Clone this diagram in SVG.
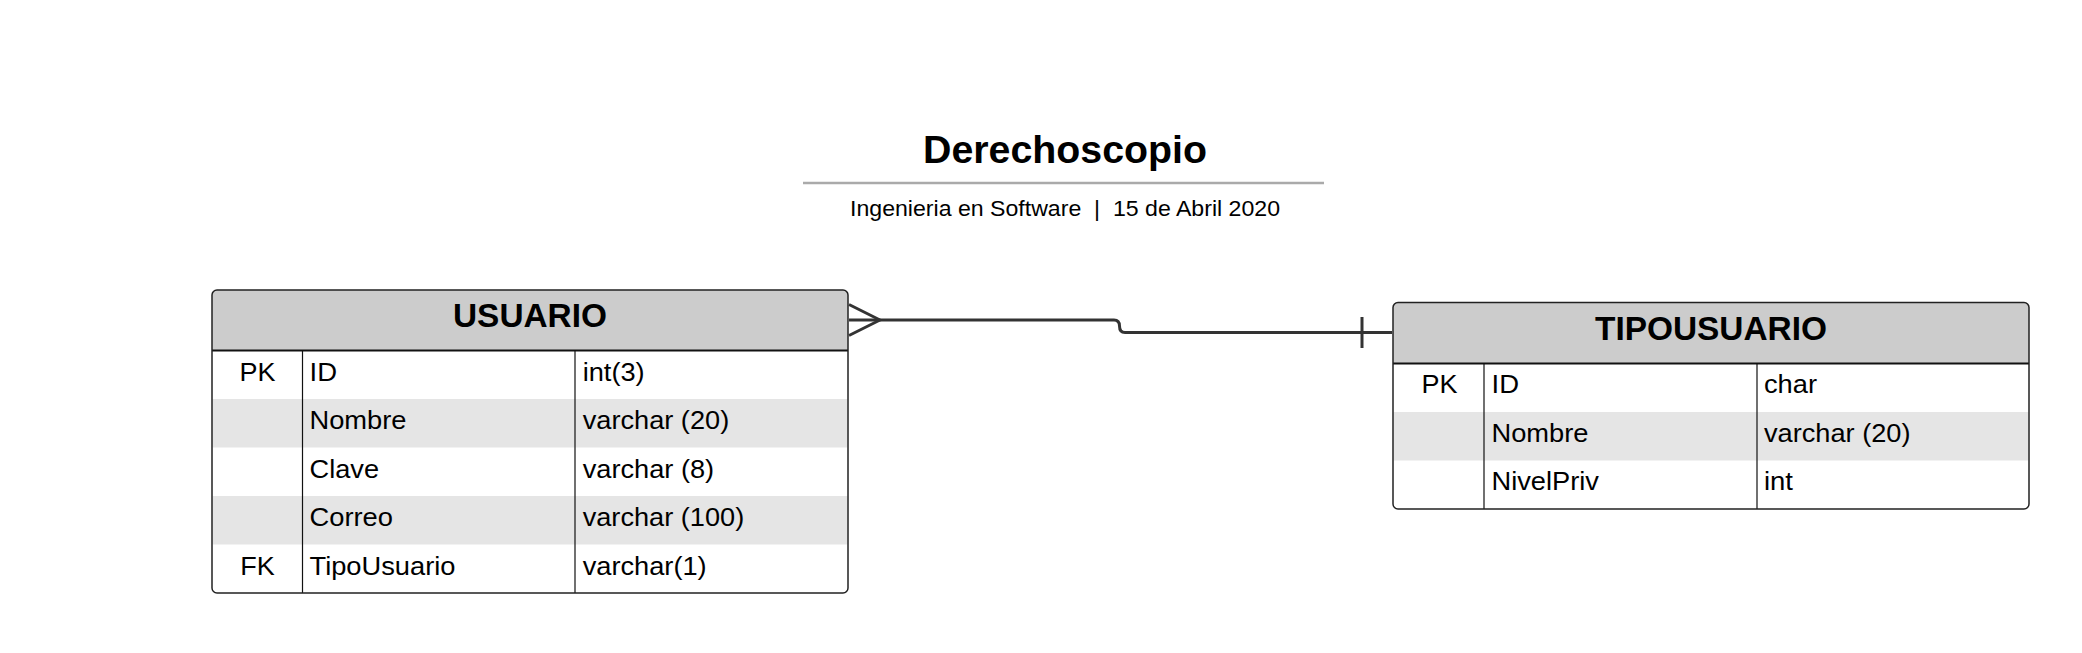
<svg xmlns="http://www.w3.org/2000/svg" width="2082" height="653" viewBox="0 0 2082 653">
<style>
.t{font-family:"Liberation Sans",Arial,sans-serif;font-size:25px;fill:#000}
.c{text-anchor:middle}
.h{font-family:"Liberation Sans",Arial,sans-serif;font-size:33px;font-weight:bold;fill:#000;text-anchor:middle}
.hdr{fill:#cccccc}
.stripe{fill:#e5e5e5}
.outline{fill:none;stroke:#222;stroke-width:1.5}
.hline{stroke:#111;stroke-width:2}
.col{stroke:#111;stroke-width:1.2}
.conn{fill:none;stroke:#333;stroke-width:3;stroke-linejoin:round}
</style>
<rect width="2082" height="653" fill="#fff"/>
<g id="title">
<text x="1065" y="163" font-family="Liberation Sans, Arial, sans-serif" font-size="39" font-weight="bold" text-anchor="middle" textLength="284" lengthAdjust="spacingAndGlyphs">Derechoscopio</text>
<line x1="803" y1="183" x2="1324" y2="183" stroke="#aaaaaa" stroke-width="2.7"/>
<text x="1065" y="215.5" xml:space="preserve" font-family="Liberation Sans, Arial, sans-serif" font-size="22.5" text-anchor="middle" textLength="430" lengthAdjust="spacingAndGlyphs">Ingenieria en Software  |  15 de Abril 2020</text>
</g>
<g id="usuario">
<rect x="212" y="290" width="636" height="303" rx="5" fill="#fff"/>
<path class="hdr" d="M212,350.5 V295 Q212,290 217,290 H843 Q848,290 848,295 V350.5 Z"/>
<rect class="stripe" x="212.5" y="399" width="635" height="48.5"/>
<rect class="stripe" x="212.5" y="496" width="635" height="48.5"/>
<line class="hline" x1="212" y1="350.5" x2="848" y2="350.5"/>
<line class="col" x1="302.5" y1="350.5" x2="302.5" y2="593"/>
<line class="col" x1="575" y1="350.5" x2="575" y2="593"/>
<rect class="outline" x="212" y="290" width="636" height="303" rx="5"/>
<text class="h" x="530" y="327" textLength="154" lengthAdjust="spacingAndGlyphs">USUARIO</text>
<text class="t c" x="257.5" y="380.5" textLength="36" lengthAdjust="spacingAndGlyphs">PK</text>
<text class="t" x="309.5" y="380.5" textLength="27.5" lengthAdjust="spacingAndGlyphs">ID</text>
<text class="t" x="582.7" y="380.5" textLength="62" lengthAdjust="spacingAndGlyphs">int(3)</text>
<text class="t" x="309.5" y="429" textLength="97" lengthAdjust="spacingAndGlyphs">Nombre</text>
<text class="t" x="582.7" y="429" textLength="146.5" lengthAdjust="spacingAndGlyphs">varchar (20)</text>
<text class="t" x="309.5" y="477.5" textLength="69.5" lengthAdjust="spacingAndGlyphs">Clave</text>
<text class="t" x="582.7" y="477.5" textLength="131.5" lengthAdjust="spacingAndGlyphs">varchar (8)</text>
<text class="t" x="309.5" y="526" textLength="83.5" lengthAdjust="spacingAndGlyphs">Correo</text>
<text class="t" x="582.7" y="526" textLength="161.5" lengthAdjust="spacingAndGlyphs">varchar (100)</text>
<text class="t c" x="257.5" y="574.5" textLength="34.5" lengthAdjust="spacingAndGlyphs">FK</text>
<text class="t" x="309.5" y="574.5" textLength="146" lengthAdjust="spacingAndGlyphs">TipoUsuario</text>
<text class="t" x="582.7" y="574.5" textLength="124" lengthAdjust="spacingAndGlyphs">varchar(1)</text>
</g>
<g id="tipousuario">
<rect x="1393" y="302.5" width="636" height="206.5" rx="5" fill="#fff"/>
<path class="hdr" d="M1393,363.5 V307.5 Q1393,302.5 1398,302.5 H2024 Q2029,302.5 2029,307.5 V363.5 Z"/>
<rect class="stripe" x="1393.5" y="412" width="635" height="48.5"/>
<line class="hline" x1="1393" y1="363.5" x2="2029" y2="363.5"/>
<line class="col" x1="1484" y1="363.5" x2="1484" y2="509"/>
<line class="col" x1="1757" y1="363.5" x2="1757" y2="509"/>
<rect class="outline" x="1393" y="302.5" width="636" height="206.5" rx="5"/>
<text class="h" x="1711" y="339.5" textLength="232" lengthAdjust="spacingAndGlyphs">TIPOUSUARIO</text>
<text class="t c" x="1439.5" y="393" textLength="36" lengthAdjust="spacingAndGlyphs">PK</text>
<text class="t" x="1491.5" y="393" textLength="27.5" lengthAdjust="spacingAndGlyphs">ID</text>
<text class="t" x="1764" y="393" textLength="53" lengthAdjust="spacingAndGlyphs">char</text>
<text class="t" x="1491.5" y="441.5" textLength="97" lengthAdjust="spacingAndGlyphs">Nombre</text>
<text class="t" x="1764" y="441.5" textLength="146.5" lengthAdjust="spacingAndGlyphs">varchar (20)</text>
<text class="t" x="1491.5" y="490" textLength="107.5" lengthAdjust="spacingAndGlyphs">NivelPriv</text>
<text class="t" x="1764" y="490" textLength="29" lengthAdjust="spacingAndGlyphs">int</text>
</g>
<g id="connectors">
<path class="conn" d="M849,320 H1114 Q1119.5,320 1119.5,326 Q1119.5,332.5 1125,332.5 H1392"/>
<path class="conn" d="M849,304.5 L880,320 L849,335.5"/>
<path class="conn" d="M1362,317 V348"/>
</g>
</svg>
